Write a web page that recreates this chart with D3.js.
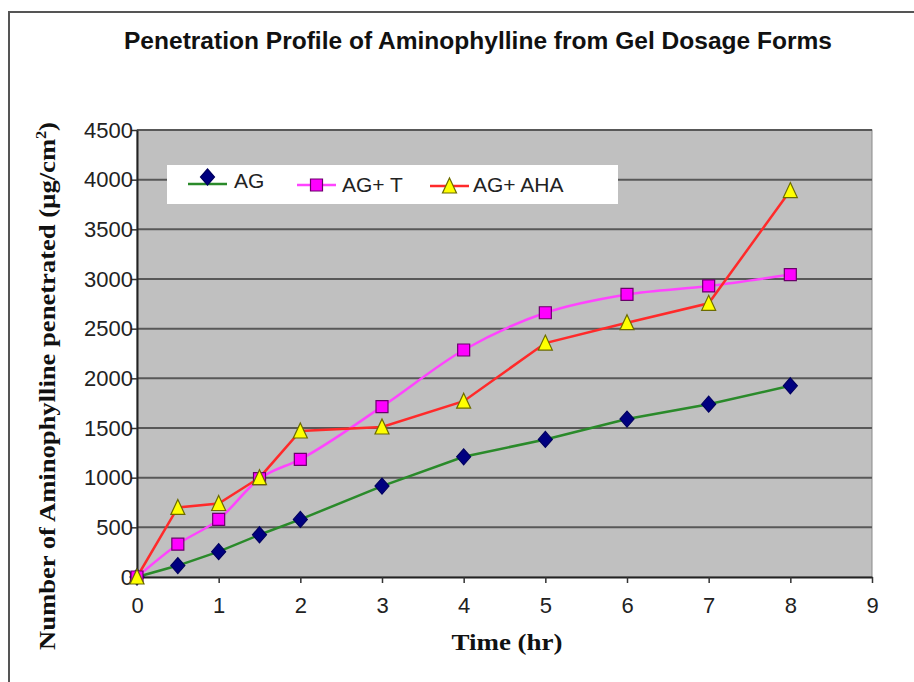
<!DOCTYPE html>
<html>
<head>
<meta charset="utf-8">
<script src="https://cdn.jsdelivr.net/npm/d3@7"></script>
<style>
  html, body { margin: 0; padding: 0; background: #fff; }
  svg { display: block; }
  .tick text { font-family: "Liberation Sans", Arial, sans-serif; font-size: 22px; fill: #222; }
</style>
</head>
<body>
<svg id="chart" width="914" height="682"></svg>
<script>
// Sampling times (hours)
const hours = [0, 0.5, 1, 1.5, 2, 3, 4, 5, 6, 7, 8];

// Cumulative amount penetrated (µg/cm²) per formulation
const seriesNames = ["AG", "AG+ T", "AG+ AHA"];
const agValues    = [0, 115, 255, 425, 580, 915, 1210, 1385, 1590, 1740, 1925];
const agTValues   = [0, 330, 580, 990, 1185, 1715, 2285, 2660, 2845, 2930, 3045];
const agAhaValues = [0, 700, 740, 1000, 1470, 1510, 1770, 2355, 2560, 2755, 3890];

// Axis ticks
const xTicks = [0, 1, 2, 3, 4, 5, 6, 7, 8, 9];
const yTicks = [0, 500, 1000, 1500, 2000, 2500, 3000, 3500, 4000, 4500];

const titleText = "Penetration Profile of Aminophylline from Gel Dosage Forms";
const xTitle = "Time (hr)";

const svg = d3.select("#chart");
const W = 914, H = 682;
const plot = { left: 137, right: 872, top: 130, bottom: 577 };

const x = d3.scaleLinear().domain([0, 9]).range([plot.left, plot.right]);
const y = d3.scaleLinear().domain([0, 4500]).range([plot.bottom, plot.top]);

// Outer frame (top and left edges visible)
svg.append("path")
  .attr("d", `M9,${H} L9,12 L${W},12`)
  .attr("fill", "none").attr("stroke", "#555").attr("stroke-width", 2);

// Title
svg.append("text")
  .attr("x", 478).attr("y", 49)
  .attr("text-anchor", "middle")
  .attr("textLength", 708).attr("lengthAdjust", "spacingAndGlyphs")
  .style("font-family", "'Liberation Sans', Arial, sans-serif")
  .style("font-weight", "bold").style("font-size", "23px").style("fill", "#111")
  .text(titleText);

// Plot background
svg.append("rect")
  .attr("x", plot.left).attr("y", plot.top)
  .attr("width", plot.right - plot.left).attr("height", plot.bottom - plot.top)
  .attr("fill", "#c0c0c0")
  .attr("stroke", "#8a8a8a").attr("stroke-width", 1);

// Horizontal gridlines
svg.append("g").selectAll("line")
  .data(yTicks.filter(d => d > 0))
  .join("line")
  .attr("x1", plot.left).attr("x2", plot.right)
  .attr("y1", d => y(d)).attr("y2", d => y(d))
  .attr("stroke", "#585858").attr("stroke-width", 2);

// Axes
const yAxis = svg.append("g")
  .attr("transform", `translate(${plot.left},0)`)
  .call(d3.axisLeft(y).tickValues(yTicks).tickFormat(d3.format("d"))
    .tickSize(6).tickPadding(-2).tickSizeOuter(0));
const xAxis = svg.append("g")
  .attr("transform", `translate(0,${plot.bottom})`)
  .call(d3.axisBottom(x).tickValues(xTicks).tickFormat(d3.format("d"))
    .tickSize(6).tickPadding(14).tickSizeOuter(0));
[yAxis, xAxis].forEach(g => {
  g.select(".domain").attr("stroke", "#222").attr("stroke-width", 2);
  g.selectAll(".tick line").attr("stroke", "#333").attr("stroke-width", 1.5);
});

// Axis titles
svg.append("text")
  .attr("x", 507).attr("y", 650)
  .attr("text-anchor", "middle")
  .attr("textLength", 111).attr("lengthAdjust", "spacingAndGlyphs")
  .style("font-family", "'Liberation Serif', 'Times New Roman', serif")
  .style("font-weight", "bold").style("font-size", "24px").style("fill", "#111")
  .text(xTitle);

const yTitle = svg.append("text")
  .attr("transform", "translate(55,386) rotate(-90)")
  .attr("text-anchor", "middle")
  .attr("textLength", 528).attr("lengthAdjust", "spacingAndGlyphs")
  .style("font-family", "'Liberation Serif', 'Times New Roman', serif")
  .style("font-weight", "bold").style("font-size", "23px").style("fill", "#111");
yTitle.append("tspan").text("Number of Aminophylline  penetrated  (µg/cm");
yTitle.append("tspan").attr("dy", -9).style("font-size", "14px").text("2");
yTitle.append("tspan").attr("dy", 9).text(")");

// Series definitions
const series = [
  { name: seriesNames[0], values: agValues,    line: "#2a8a2a", marker: "diamond",  fill: "#000080", stroke: "#000060", curve: d3.curveLinear },
  { name: seriesNames[1], values: agTValues,   line: "#ff44ff", marker: "square",   fill: "#ff00ff", stroke: "#6a006a", curve: d3.curveMonotoneX },
  { name: seriesNames[2], values: agAhaValues, line: "#ff2a2a", marker: "triangle", fill: "#ffff00", stroke: "#6b6b00", curve: d3.curveLinear }
];

function markerPath(type) {
  if (type === "diamond") return "M0,-8 L7,0 L0,8 L-7,0 Z";
  if (type === "square") return "M-6,-6 L6,-6 L6,6 L-6,6 Z";
  return "M0,-8 L7,7 L-7,7 Z";
}

const linesG = svg.append("g");
const marksG = svg.append("g");
series.forEach(s => {
  const pts = hours.map((h, i) => [h, s.values[i]]);
  linesG.append("path")
    .datum(pts)
    .attr("fill", "none")
    .attr("stroke", s.line).attr("stroke-width", 2.5)
    .attr("d", d3.line().x(d => x(d[0])).y(d => y(d[1])).curve(s.curve));
});
series.forEach(s => {
  const pts = hours.map((h, i) => [h, s.values[i]]);
  marksG.append("g").selectAll("path")
    .data(pts)
    .join("path")
    .attr("transform", d => `translate(${x(d[0])},${y(d[1])})`)
    .attr("d", markerPath(s.marker))
    .attr("fill", s.fill).attr("stroke", s.stroke).attr("stroke-width", 1.2);
});

// Legend
const legend = svg.append("g");
legend.append("rect")
  .attr("x", 167).attr("y", 165).attr("width", 451).attr("height", 39)
  .attr("fill", "#fff");
const legendItems = [
  { lineX: 188, textX: 234, lineY: 184, markY: 177, textY: 188 },
  { lineX: 297, textX: 342, lineY: 185, markY: 185, textY: 192 },
  { lineX: 430, textX: 473, lineY: 186, markY: 186, textY: 192 }
];
series.forEach((s, i) => {
  const it = legendItems[i];
  legend.append("line")
    .attr("x1", it.lineX).attr("x2", it.lineX + 39)
    .attr("y1", it.lineY).attr("y2", it.lineY)
    .attr("stroke", s.line).attr("stroke-width", 2.5);
  legend.append("path")
    .attr("transform", `translate(${it.lineX + 19.5},${it.markY})`)
    .attr("d", markerPath(s.marker))
    .attr("fill", s.fill).attr("stroke", s.stroke).attr("stroke-width", 1.2);
  legend.append("text")
    .attr("x", it.textX).attr("y", it.textY)
    .style("font-family", "'Liberation Sans', Arial, sans-serif")
    .style("font-size", "21px").style("fill", "#222")
    .text(s.name);
});
</script>
</body>
</html>
